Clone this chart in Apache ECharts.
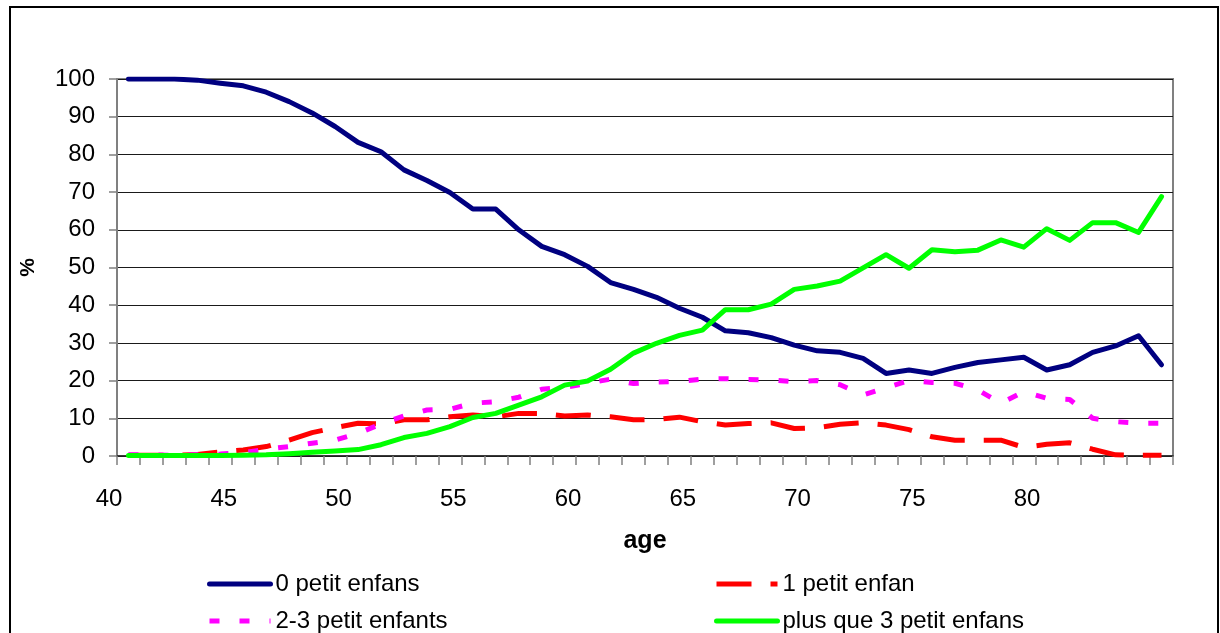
<!DOCTYPE html>
<html>
<head>
<meta charset="utf-8">
<script src="https://cdn.jsdelivr.net/npm/echarts@6/dist/echarts.min.js"></script>
<style>
  html, body { margin: 0; padding: 0; background: #fff; }
  #chart { width: 1220px; height: 633px; }
</style>
</head>
<body>
<div id="chart"></div>
<script>
// Categories: age 41..86
const ages = [41,42,43,44,45,46,47,48,49,50,51,52,53,54,55,56,57,58,59,60,61,62,63,64,65,66,67,68,69,70,71,72,73,74,75,76,77,78,79,80,81,82,83,84,85,86];

// Tick labels shown under the axis
const xTickLabels = ['40','45','50','55','60','65','70','75','80'];

const seriesNames = ['0 petit enfans', '1 petit enfan', '2-3 petit enfants', 'plus que 3 petit enfans'];

const zeroGrand = [100,100,100,99.7,98.9,98.2,96.5,94,91,87.4,83.2,80.7,75.9,73.1,69.9,65.5,65.5,60,55.6,53.4,50.3,46,44.2,42.1,39.2,36.8,33.2,32.7,31.4,29.4,27.9,27.5,25.9,21.9,22.8,21.9,23.5,24.8,25.5,26.2,22.8,24.2,27.5,29.2,31.9,24.2];

const oneGrand = [0.2,0.2,0.2,0.4,1.1,1.6,2.5,4.2,6.2,7.5,8.7,8.5,9.6,9.6,10.4,10.9,10.4,11.3,11.3,10.6,10.9,10.4,9.6,9.7,10.3,9.1,8.2,8.6,8.8,7.3,7.5,8.4,8.8,8.2,7.0,5.1,4.2,4.2,4.2,2.3,3.1,3.5,1.8,0.3,0.2,0.2];

const twoThreeGrand = [0.3,0.3,0.2,0.3,0.5,0.9,1.8,2.5,3.4,4.2,6.0,8.5,10.6,12.2,12.4,14.0,14.4,15.6,17.7,18.2,19.3,20.4,19.2,19.6,19.8,20.4,20.5,20.3,20.2,19.7,20.0,18.9,16.2,18.1,20.0,19.5,19.3,17.5,14.0,17.1,15.3,15.0,10.0,9.1,8.7,8.7];

const moreThreeGrand = [0.1,0.1,0.1,0.1,0.1,0.2,0.3,0.6,1.0,1.3,1.7,3.0,4.9,6.0,7.8,10.2,11.3,13.5,15.7,18.8,19.9,23.0,27.3,29.9,32.0,33.4,38.8,38.8,40.3,44.2,45.1,46.4,49.9,53.4,49.8,54.7,54.2,54.6,57.3,55.4,60.3,57.2,61.9,61.9,59.3,68.8];

const FONT = "'Liberation Sans', Arial, sans-serif";

const chart = echarts.init(document.getElementById('chart'), null, { renderer: 'canvas' });

function legendAt(name, left, top) {
  return {
    data: [name],
    left: left,
    top: top,
    padding: 0,
    icon: 'inherit',
    itemWidth: 61,
    itemHeight: 14,
    selectedMode: false,
    lineStyle: { width: 5 },
    itemStyle: { color: 'rgba(0,0,0,0)', borderColor: 'rgba(0,0,0,0)', borderWidth: 0 },
    textStyle: { fontFamily: FONT, fontSize: 24, color: '#000', lineHeight: 24 }
  };
}

const option = {
  animation: false,
  backgroundColor: '#fff',
  graphic: [{
    type: 'rect',
    silent: true,
    shape: { x: 10, y: 7, width: 1208, height: 640 },
    style: { fill: 'none', stroke: '#000', lineWidth: 2 }
  }],
  grid: [
    { left: 117, top: 79, right: 47, bottom: 177, show: true, borderColor: '#808080', borderWidth: 2, backgroundColor: '#fff' },
    { left: 109, top: 79, width: 918, bottom: 177, show: false }
  ],
  legend: [
    legendAt(seriesNames[0], 207, 572),
    legendAt(seriesNames[1], 714, 572),
    legendAt(seriesNames[2], 207, 609),
    legendAt(seriesNames[3], 714, 609)
  ],
  xAxis: [
    {
      type: 'category',
      gridIndex: 0,
      data: ages,
      boundaryGap: true,
      name: 'age',
      nameLocation: 'middle',
      nameGap: 73,
      nameTextStyle: { fontFamily: FONT, fontSize: 25, fontWeight: 'bold', color: '#000' },
      axisLine: { show: true, lineStyle: { color: '#222', width: 1.5 } },
      axisTick: { show: true, interval: 0, length: 9, lineStyle: { color: '#808080', width: 1.5 } },
      axisLabel: { show: false },
      splitLine: { show: false }
    },
    {
      type: 'category',
      gridIndex: 1,
      data: xTickLabels,
      boundaryGap: false,
      axisLine: { show: false },
      axisTick: { show: false },
      splitLine: { show: false },
      axisLabel: { interval: 0, margin: 31, fontFamily: FONT, fontSize: 24, color: '#000' }
    }
  ],
  yAxis: [
    {
      type: 'value',
      gridIndex: 0,
      min: 0,
      max: 100,
      interval: 10,
      name: '%',
      nameLocation: 'middle',
      nameGap: 78,
      nameRotate: 90,
      nameTextStyle: { fontFamily: FONT, fontSize: 21, fontWeight: 'bold', color: '#000' },
      axisLine: { show: true, lineStyle: { color: '#808080', width: 2 } },
      axisTick: { show: true, length: 8, lineStyle: { color: '#808080', width: 1.5 } },
      axisLabel: { margin: 22, fontFamily: FONT, fontSize: 24, color: '#000' },
      splitLine: { show: true, lineStyle: { color: '#1a1a1a', width: 1 } }
    },
    {
      type: 'value',
      gridIndex: 1,
      min: 0,
      max: 100,
      show: false
    }
  ],
  series: [
    {
      name: seriesNames[0], type: 'line', data: zeroGrand, symbol: 'none',
      xAxisIndex: 0, yAxisIndex: 0,
      lineStyle: { color: '#000080', width: 5, cap: 'round', join: 'round' },
      itemStyle: { color: '#000080' }
    },
    {
      name: seriesNames[1], type: 'line', data: oneGrand, symbol: 'none',
      xAxisIndex: 0, yAxisIndex: 0,
      lineStyle: { color: '#FF0000', width: 5, type: [35, 19], cap: 'butt', join: 'round' },
      itemStyle: { color: '#FF0000' }
    },
    {
      name: seriesNames[2], type: 'line', data: twoThreeGrand, symbol: 'none',
      xAxisIndex: 0, yAxisIndex: 0,
      lineStyle: { color: '#FF00FF', width: 5, type: [10, 20], cap: 'butt', join: 'round' },
      itemStyle: { color: '#FF00FF' }
    },
    {
      name: seriesNames[3], type: 'line', data: moreThreeGrand, symbol: 'none',
      xAxisIndex: 0, yAxisIndex: 0,
      lineStyle: { color: '#00FF00', width: 5, cap: 'round', join: 'round' },
      itemStyle: { color: '#00FF00' }
    }
  ]
};

chart.setOption(option);
</script>
</body>
</html>
